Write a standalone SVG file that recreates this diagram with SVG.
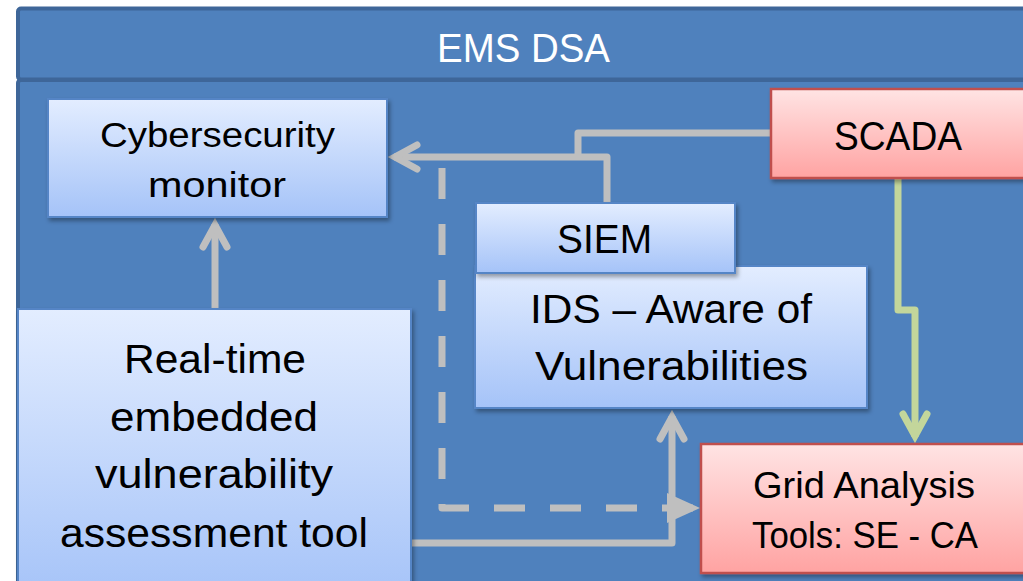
<svg xmlns="http://www.w3.org/2000/svg" width="1023" height="581" viewBox="0 0 1023 581">
  <style>
    .panel { fill: #4F81BD; stroke: #3E6699; stroke-width: 4; }
    .blue { fill: url(#gBlue); stroke: #5585C6; stroke-width: 2; filter: url(#shadow); }
    .pink { fill: url(#gPink); stroke: #C0504D; stroke-width: 2.5; filter: url(#shadow); }
    .lbl { font-family: "Liberation Sans", Arial, sans-serif; fill: #000; text-anchor: middle; }
    .title { font-family: "Liberation Sans", Arial, sans-serif; fill: #fff; text-anchor: middle; font-size: 41px; }
    .gray { fill: none; stroke: #BFBFBF; stroke-width: 7; stroke-linejoin: round; }
    .green { fill: none; stroke: #C3D69B; stroke-width: 7; stroke-linejoin: round; }
  </style>
  <defs>
    <linearGradient id="gBlue" x1="0" y1="0" x2="0" y2="1">
      <stop offset="0" stop-color="#E3EDFF"/>
      <stop offset="1" stop-color="#A5C3F8"/>
    </linearGradient>
    <linearGradient id="gPink" x1="0" y1="0" x2="0" y2="1">
      <stop offset="0" stop-color="#FFE4E4"/>
      <stop offset="1" stop-color="#FFA3A2"/>
    </linearGradient>
    <filter id="shadow" x="-10%" y="-10%" width="130%" height="130%">
      <feDropShadow dx="2" dy="3" stdDeviation="2" flood-color="#000" flood-opacity="0.35"/>
    </filter>
    <marker id="chevGray" markerUnits="userSpaceOnUse" orient="auto" refX="0" refY="0" markerWidth="60" markerHeight="60" style="overflow:visible">
      <path d="M-23,-12 L-1,0 L-23,12" fill="none" stroke="#BFBFBF" stroke-width="7" stroke-linecap="round" stroke-linejoin="miter" stroke-miterlimit="10"/>
    </marker>
    <marker id="chevGreen" markerUnits="userSpaceOnUse" orient="auto" refX="0" refY="0" markerWidth="60" markerHeight="60" style="overflow:visible">
      <path d="M-23,-12 L-1,0 L-23,12" fill="none" stroke="#C3D69B" stroke-width="7" stroke-linecap="round" stroke-linejoin="miter" stroke-miterlimit="10"/>
    </marker>
    <marker id="triGray" markerUnits="userSpaceOnUse" orient="auto" refX="0" refY="0" markerWidth="60" markerHeight="60" style="overflow:visible">
      <path d="M-33,-15 L0,0 L-33,15 Z" fill="#BFBFBF"/>
    </marker>
  </defs>

  <rect width="1023" height="581" fill="#fff"/>

  <!-- container: title band and body panel -->
  <g id="ems-dsa">
    <rect class="panel" x="18" y="8.5" width="1020" height="71" rx="3"/>
    <rect class="panel" x="18" y="80" width="1020" height="520" rx="3"/>
    <text class="title" x="523.5" y="62" textLength="173" lengthAdjust="spacingAndGlyphs">EMS DSA</text>
  </g>

  <!-- connectors -->
  <g id="connectors">
    <!-- SCADA feed joining the SIEM line -->
    <path class="gray" d="M772,133 H578 V157"/>
    <!-- SIEM to cybersecurity monitor -->
    <path class="gray" d="M607,204 V157 H394" marker-end="url(#chevGray)"/>
    <!-- vulnerability tool to cybersecurity monitor -->
    <path class="gray" d="M215,309 V224" marker-end="url(#chevGray)"/>
    <!-- vulnerability tool to IDS -->
    <path class="gray" d="M411,543 H672 V416" marker-end="url(#chevGray)"/>
    <!-- dashed link to grid analysis tools -->
    <path class="gray" d="M442,168 V508 H700" stroke-dasharray="31 25" stroke-linejoin="miter" marker-end="url(#triGray)"/>
    <!-- SCADA to grid analysis tools -->
    <path class="green" d="M898,178 V310 H915 V437" marker-end="url(#chevGreen)"/>
  </g>

  <g id="cybersecurity-monitor">
    <rect class="blue" x="48" y="99" width="339" height="118"/>
    <text class="lbl" font-size="35" x="217.5" y="147" textLength="235" lengthAdjust="spacingAndGlyphs">Cybersecurity</text>
    <text class="lbl" font-size="35" x="217" y="197" textLength="138" lengthAdjust="spacingAndGlyphs">monitor</text>
  </g>

  <g id="scada">
    <rect class="pink" x="771" y="89" width="256" height="89"/>
    <text class="lbl" font-size="41" x="898" y="150" textLength="128" lengthAdjust="spacingAndGlyphs">SCADA</text>
  </g>

  <g id="ids">
    <rect class="blue" x="475" y="266" width="392" height="142"/>
    <text class="lbl" font-size="41" x="671" y="323" textLength="282" lengthAdjust="spacingAndGlyphs">IDS – Aware of</text>
    <text class="lbl" font-size="41" x="671.5" y="380" textLength="273" lengthAdjust="spacingAndGlyphs">Vulnerabilities</text>
  </g>

  <g id="siem">
    <rect class="blue" x="476" y="203" width="259" height="70"/>
    <text class="lbl" font-size="40" x="604.5" y="253" textLength="95" lengthAdjust="spacingAndGlyphs">SIEM</text>
  </g>

  <g id="vulnerability-tool">
    <rect class="blue" x="18" y="309" width="393" height="290"/>
    <text class="lbl" font-size="41" x="215" y="373" textLength="182" lengthAdjust="spacingAndGlyphs">Real-time</text>
    <text class="lbl" font-size="41" x="214" y="431" textLength="208" lengthAdjust="spacingAndGlyphs">embedded</text>
    <text class="lbl" font-size="41" x="214" y="488" textLength="238" lengthAdjust="spacingAndGlyphs">vulnerability</text>
    <text class="lbl" font-size="41" x="214" y="547" textLength="308" lengthAdjust="spacingAndGlyphs">assessment tool</text>
  </g>

  <g id="grid-analysis">
    <rect class="pink" x="701" y="444" width="326" height="129"/>
    <text class="lbl" font-size="37" x="864" y="498" textLength="222" lengthAdjust="spacingAndGlyphs">Grid Analysis</text>
    <text class="lbl" font-size="37" x="865" y="548" textLength="226" lengthAdjust="spacingAndGlyphs">Tools: SE - CA</text>
  </g>
</svg>
